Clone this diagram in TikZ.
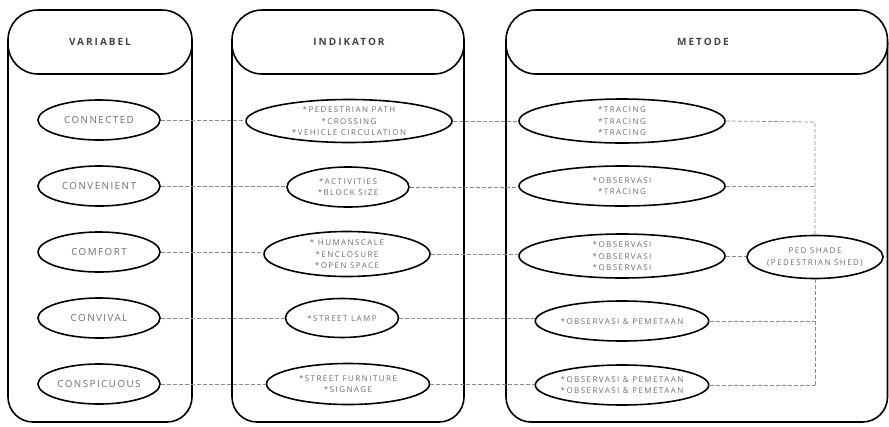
\documentclass[tikz,border=0pt]{standalone}
\usepackage{fontspec}
\setmainfont{Open Sans}
\newfontfamily\lblfont[LetterSpace=15]{Open Sans}
\newfontfamily\smlfont[LetterSpace=18]{Open Sans}
\newfontfamily\hdfont[LetterSpace=20]{Open Sans}
\usetikzlibrary{shapes.geometric}
\definecolor{txtgray}{HTML}{6E6E6E}
\definecolor{hdgray}{HTML}{444444}
\definecolor{lngray}{HTML}{8A8A8A}
\begin{document}
\begin{tikzpicture}[x=1pt,y=-1pt,
  colbox/.style={line width=1.6pt, rounded corners=25pt},
  hdbox/.style={line width=1.6pt, rounded corners=30pt, fill=white},
  hdtext/.style={font=\hdfont\fontsize{10}{11}\selectfont\bfseries, text=hdgray},
  varell/.style={draw, line width=1.6pt, ellipse, inner sep=0pt, text=txtgray,
     font=\lblfont\fontsize{9.8}{11}\selectfont},
  subell/.style={draw, line width=1.6pt, ellipse, inner sep=0pt, text=txtgray, align=center,
     font=\smlfont\fontsize{8}{11.8}\selectfont},
  conn/.style={draw=lngray, line width=0.7pt, dash pattern=on 4pt off 2pt}]
\useasboundingbox (0,0) rectangle (889,426);
% columns
\draw[colbox] (8,42) -- (8,422) -- (192,422) -- (192,42);
\draw[colbox] (232,42) -- (232,422) -- (464,422) -- (464,42);
\draw[colbox] (506,42) -- (506,422) -- (887.5,422) -- (887.5,42);
\draw[hdbox] (8,10) rectangle (192,74);
\draw[hdbox] (232,10) rectangle (464,74);
\draw[hdbox] (506,10) rectangle (887.5,74);
\node[hdtext] (h1) at (100,42) {VARIABEL};
\node[hdtext] (h2) at (349,42) {INDIKATOR};
\node[hdtext] (h3) at (703,42) {METODE};
% variables
\node[varell, minimum width=122pt, minimum height=40pt] (v1) at (99,120) {CONNECTED};
\node[varell, minimum width=122pt, minimum height=40pt] (v2) at (99,186) {CONVENIENT};
\node[varell, minimum width=122pt, minimum height=40pt] (v3) at (99,252) {COMFORT};
\node[varell, minimum width=122pt, minimum height=40pt] (v4) at (99,318) {CONVIVAL};
\node[varell, minimum width=122pt, minimum height=40pt] (v5) at (99,384) {CONSPICUOUS};
% indicators
\node[subell, minimum width=206pt, minimum height=43pt] (i1) at (349,121) {*PEDESTRIAN PATH\\*CROSSING\\*VEHICLE CIRCULATION};
\node[subell, minimum width=122pt, minimum height=40pt] (i2) at (348,187) {*ACTIVITIES\\*BLOCK SIZE};
\node[subell, minimum width=166pt, minimum height=45pt] (i3) at (347,254) {* HUMANSCALE\\*ENCLOSURE\\*OPEN SPACE};
\node[subell, minimum width=113pt, minimum height=39pt] (i4) at (342,318) {*STREET LAMP};
\node[subell, minimum width=163pt, minimum height=41pt] (i5) at (348,384) {*STREET FURNITURE\\*SIGNAGE};
% methods
\node[subell, minimum width=206pt, minimum height=44pt] (m1) at (622,121) {*TRACING\\*TRACING\\*TRACING};
\node[subell, minimum width=206pt, minimum height=40pt] (m2) at (622,186) {*OBSERVASI\\*TRACING};
\node[subell, minimum width=206pt, minimum height=44pt] (m3) at (622,256) {*OBSERVASI\\*OBSERVASI\\*OBSERVASI};
\node[subell, minimum width=154pt, minimum height=40pt] (m4) at (622,321) {*OBSERVASI \& PEMETAAN};
\node[subell, minimum width=154pt, minimum height=40pt] (m5) at (622,385) {*OBSERVASI \& PEMETAAN\\*OBSERVASI \& PEMETAAN};
\node[subell, minimum width=136pt, minimum height=43pt] (ps) at (815,257) {PED SHADE\\(PEDESTRIAN SHED)};
% junction points
\coordinate (j1) at (815,122);
\coordinate (j2) at (815,186);
\coordinate (j4) at (815,321);
\coordinate (j5) at (815,385);
% connectors
\draw[conn] (v1.east) -- (v1.east -| i1.west);
\draw[conn] (v2.east) -- (v2.east -| i2.west);
\draw[conn] (v3.east) -- (v3.east -| i3.west);
\draw[conn] (v4.east) -- (v4.east -| i4.west);
\draw[conn] (v5.east) -- (v5.east -| i5.west);
\draw[conn] (i1.east) -- (i1.east -| m1.west);
\draw[conn] (i2.east) -- (i2.east -| m2.west);
\draw[conn] (i3.east) -- (i3.east -| m3.west);
\draw[conn] (i4.east) -- (i4.east -| m4.west);
\draw[conn] (i5.east) -- (i5.east -| m5.west);
\draw[conn] (m1.east) -- (j1) -- (ps.north);
\draw[conn] (m2.east) -- (j2);
\draw[conn] (m3.east) -- (m3.east -| ps.west);
\draw[conn] (ps.south) -- (j5);
\draw[conn] (m4.east) -- (j4);
\draw[conn] (m5.east) -- (j5);
\end{tikzpicture}
\end{document}
